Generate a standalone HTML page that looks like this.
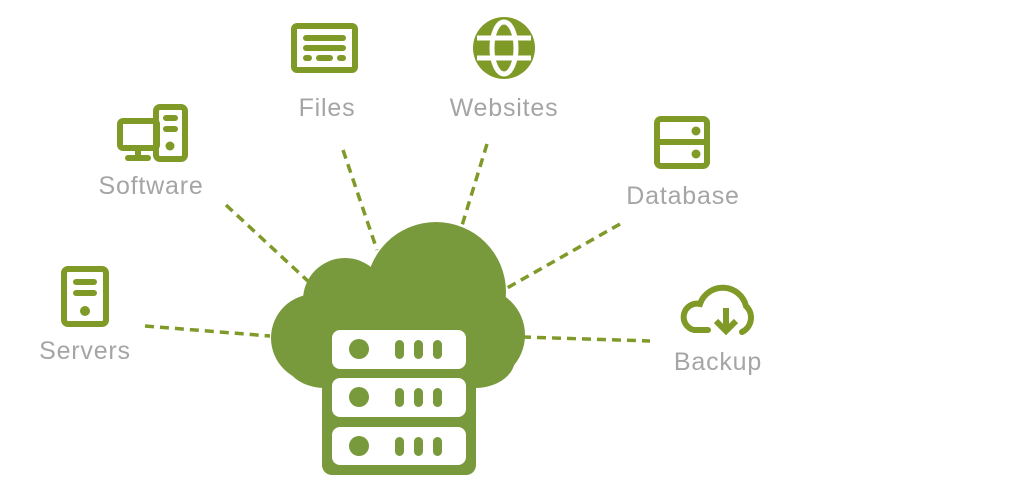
<!DOCTYPE html>
<html><head><meta charset="utf-8"><style>
html,body{margin:0;padding:0;background:#fff;}
svg{display:block}
text{font-family:"Liberation Sans",sans-serif;font-size:25px;fill:#a5a5a5;text-anchor:middle;letter-spacing:0.8px}
</style></head><body>
<svg width="1024" height="483" viewBox="0 0 1024 483" xmlns="http://www.w3.org/2000/svg">
<g stroke="#7f9a29" stroke-width="3.5" stroke-dasharray="9,6" fill="none">
<line x1="145" y1="326" x2="270" y2="336"/>
<line x1="226" y1="205" x2="310" y2="283"/>
<line x1="343" y1="150" x2="377" y2="250"/>
<line x1="487" y1="144" x2="460" y2="232"/>
<line x1="620" y1="224" x2="500" y2="292"/>
<line x1="522" y1="337" x2="650" y2="341"/>
</g>
<g fill="#789a3c">
<circle cx="315" cy="338" r="44"/>
<circle cx="345" cy="300" r="42"/>
<circle cx="436" cy="292" r="70"/>
<circle cx="478" cy="335" r="47"/>
<rect x="300" y="300" width="200" height="88" rx="30"/>
<rect x="285" y="330" width="230" height="58" rx="40"/>
<rect x="322" y="368" width="154" height="107" rx="10"/>
</g>
<g fill="#fff">
<rect x="332" y="330" width="134" height="39" rx="8"/>
<rect x="332" y="378" width="134" height="39" rx="8"/>
<rect x="332" y="427" width="134" height="38" rx="8"/>
</g>
<g fill="#789a3c">
<circle cx="359" cy="349" r="10"/><circle cx="359" cy="397" r="10"/><circle cx="359" cy="446" r="10"/>
<rect x="395" y="340" width="9" height="19" rx="4.5"/><rect x="414" y="340" width="9" height="19" rx="4.5"/><rect x="433" y="340" width="9" height="19" rx="4.5"/>
<rect x="395" y="388" width="9" height="19" rx="4.5"/><rect x="414" y="388" width="9" height="19" rx="4.5"/><rect x="433" y="388" width="9" height="19" rx="4.5"/>
<rect x="395" y="437" width="9" height="19" rx="4.5"/><rect x="414" y="437" width="9" height="19" rx="4.5"/><rect x="433" y="437" width="9" height="19" rx="4.5"/>
</g>
<g stroke="#809a28" fill="none" stroke-width="6">
<rect x="64" y="269" width="42" height="55" rx="4"/>
<rect x="120" y="121" width="37" height="27" rx="3"/>
<line x1="138" y1="148" x2="138" y2="158"/><line x1="128" y1="158" x2="148" y2="158" stroke-linecap="round"/>
<rect x="156" y="107" width="29" height="52" rx="4"/>
<rect x="294" y="26" width="61" height="44" rx="3"/>
<rect x="657" y="119" width="50" height="47" rx="4"/>
<line x1="657" y1="142" x2="707" y2="142"/>
<path d="M708 330 L694 330 A13 13 0 0 1 700 304 A24 24 0 0 1 746 306 A16 16 0 0 1 742 332" stroke-linecap="round"/>
<line x1="726" y1="308" x2="726" y2="330"/>
<path d="M716 321 L726 331 L736 321"/>
</g>
<g fill="#809a28">
<rect x="73" y="279" width="24" height="6" rx="3"/><rect x="73" y="290" width="24" height="6" rx="3"/><circle cx="85" cy="311" r="5"/>
<rect x="163" y="115" width="15" height="6" rx="3"/><rect x="163" y="126" width="15" height="6" rx="3"/><circle cx="170" cy="146" r="4.5"/>
<rect x="303" y="35" width="43" height="6" rx="3"/><rect x="303" y="45" width="43" height="6" rx="3"/>
<rect x="303" y="55" width="9" height="6" rx="3"/><rect x="316" y="55" width="17" height="6" rx="3"/><rect x="337" y="55" width="9" height="6" rx="3"/>
<circle cx="696" cy="131" r="4.5"/><circle cx="696" cy="154" r="4.5"/>
<circle cx="504" cy="48" r="31"/>
</g>
<g stroke="#fff" stroke-width="5" fill="none">
<ellipse cx="504" cy="48" rx="12" ry="26"/>
<line x1="477" y1="38" x2="531" y2="38"/><line x1="477" y1="58" x2="531" y2="58"/>
</g>
<text x="85" y="359">Servers</text>
<text x="151" y="194">Software</text>
<text x="327" y="116">Files</text>
<text x="504" y="116">Websites</text>
<text x="683" y="204">Database</text>
<text x="718" y="370">Backup</text>
</svg>
</body></html>
